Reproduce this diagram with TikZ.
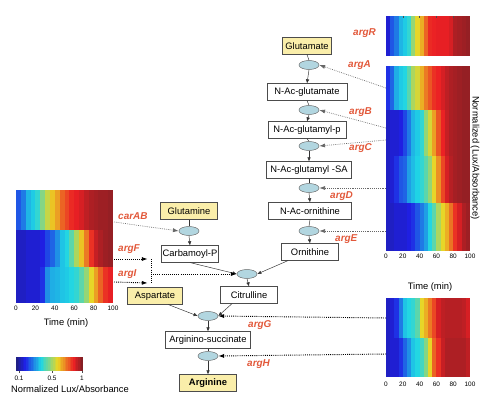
\documentclass[tikz,border=0pt]{standalone}
\usepackage{fontspec}
\setmainfont{Liberation Sans}
\usetikzlibrary{shapes.geometric,arrows.meta}
\definecolor{genered}{RGB}{226,88,58}
\definecolor{metyellow}{RGB}{250,238,170}
\definecolor{enzblue}{RGB}{178,214,224}

% jet colour of a value in [0,1], softened a little, stored as jetcol
\newcommand{\jetcolour}[1]{%
  \pgfmathsetmacro{\jr}{0.12+0.8*max(0,min(1,min(4*#1-1.5,4.5-4*#1)))}%
  \pgfmathsetmacro{\jg}{0.12+0.72*max(0,min(1,min(4*#1-0.5,3.5-4*#1)))}%
  \pgfmathsetmacro{\jb}{0.14+0.76*max(0,min(1,min(4*#1+0.5,2.5-4*#1)))}%
  \definecolor{jetcol}{rgb}{\jr,\jg,\jb}}

% one heat-map row: left x, right x, top y, bottom y, 20 values in [0,1]
\newcommand{\heatrow}[5]{%
  \foreach \val [count=\k] in {#5} {
    \jetcolour{\val}
    \pgfmathsetmacro{\xa}{#1+(\k-1)*(#2-#1)/20}
    \pgfmathsetmacro{\xb}{min(#2,#1+\k*(#2-#1)/20+0.4)}
    \fill[jetcol] (\xa,#3) rectangle (\xb,#4);
  }}

\begin{document}
\begin{tikzpicture}[x=0.03cm, y=-0.03cm,
  metbox/.style={rectangle, draw=black!70, fill=white, minimum height=0.5cm, inner sep=1pt, font=\fontsize{8}{9}\selectfont},
  srcbox/.style={metbox, fill=metyellow},
  enz/.style={ellipse, draw=black!60, fill=enzblue, minimum width=0.6cm, minimum height=0.27cm, inner sep=0pt},
  gene/.style={anchor=west, inner sep=0pt, text=genered, font=\fontsize{8.5}{10}\selectfont\bfseries\itshape},
  ticklab/.style={inner sep=0pt, font=\fontsize{5.5}{6}\selectfont},
  axislab/.style={inner sep=0pt, font=\fontsize{8}{9}\selectfont},
  flow/.style={-{Latex[length=3.5pt,width=3pt]}, black!80, thin},
  link/.style={-{Latex[length=5pt,width=3.5pt]}, densely dotted, black!60, line width=0.6pt},
  boldlink/.style={densely dotted, thick, black}
]
  \useasboundingbox (0,0) rectangle (480,394);

  % Heat maps (right)
  \heatrow{386}{470}{16}{56}{0.1,0.2,0.25,0.33,0.36,0.4,0.52,0.62,0.68,0.78,0.86,0.87,0.88,0.88,0.88,0.9,0.95,0.96,0.97,0.98}
  \heatrow{386}{470}{66}{110}{0.15,0.22,0.32,0.36,0.38,0.45,0.55,0.6,0.68,0.75,0.8,0.85,0.87,0.9,0.93,0.95,0.96,0.97,0.98,0.98}
  \heatrow{386}{470}{110}{156}{0.08,0.1,0.1,0.12,0.18,0.25,0.33,0.36,0.4,0.52,0.6,0.7,0.8,0.87,0.92,0.95,0.96,0.97,0.98,0.98}
  \heatrow{386}{470}{156}{203}{0.08,0.1,0.15,0.2,0.22,0.3,0.34,0.37,0.4,0.45,0.52,0.62,0.72,0.82,0.9,0.94,0.96,0.97,0.98,0.98}
  \heatrow{386}{470}{203}{251}{0.08,0.08,0.1,0.1,0.1,0.12,0.15,0.2,0.25,0.3,0.38,0.45,0.55,0.62,0.68,0.76,0.85,0.9,0.95,0.97}
  \heatrow{386}{470}{298}{338}{0.08,0.1,0.15,0.25,0.35,0.38,0.4,0.45,0.62,0.68,0.75,0.82,0.9,0.93,0.94,0.94,0.94,0.94,0.93,0.9}
  \heatrow{386}{470}{338}{377}{0.08,0.1,0.1,0.15,0.22,0.28,0.35,0.38,0.42,0.5,0.62,0.78,0.85,0.92,0.95,0.95,0.95,0.95,0.95,0.93}
  % Heat map (left)
  \heatrow{16}{113}{190}{230}{0.2,0.25,0.33,0.36,0.4,0.5,0.58,0.65,0.7,0.78,0.82,0.86,0.88,0.9,0.93,0.95,0.96,0.97,0.97,0.98}
  \heatrow{16}{113}{230}{267}{0.08,0.08,0.1,0.1,0.1,0.12,0.18,0.22,0.28,0.35,0.38,0.45,0.55,0.65,0.75,0.85,0.92,0.95,0.97,0.98}
  \heatrow{16}{113}{267}{303}{0.08,0.08,0.1,0.1,0.1,0.15,0.28,0.32,0.33,0.35,0.36,0.38,0.4,0.45,0.52,0.62,0.7,0.78,0.85,0.88}

  % Axes
  \foreach \t in {20,40,60,80} \draw[black!70] ({386+0.84*\t},16) -- ++(0,2.5);
  \foreach \t in {0,20,...,100} {
    \node[ticklab] at ({386+0.84*\t},256) {\t};
    \node[ticklab] at ({386+0.84*\t},384) {\t};
    \node[ticklab] at ({16+0.97*\t},308) {\t};
  }
  \node[axislab] (timeR) at (430,287) {Time (min)};
  \node[axislab] (timeL) at (66,323) {Time (min)};
  \node[axislab, rotate=-90] (normR) at (475,158) {Normalized (Lux/Absorbance)};

  % Colour bar
  \foreach \k in {0,...,39} {
    \pgfmathsetmacro{\cbval}{\k/39}
    \jetcolour{\cbval}
    \fill[jetcol] ({16+\k*67/40},357) rectangle ({16+(\k+1)*67/40+0.3},371);
  }
  \foreach \x in {19,52,82} \draw[black!70] (\x,371) -- ++(0,2);
  \node[ticklab] (cb1) at (19,378) {0.1};
  \node[ticklab] (cb2) at (52,378) {0.5};
  \node[ticklab] (cb3) at (82,378) {1};
  \node[axislab] (cblab) at (70,389) {Normalized Lux/Absorbance};

  % Glutamate branch
  \node[srcbox, minimum width=1.47cm] (glu) at (307,46) {Glutamate};
  \node[enz] (e1) at (309,65) {};
  \node[metbox, minimum width=2.4cm] (nag) at (307,92) {N-Ac-glutamate};
  \node[enz] (e2) at (309,110) {};
  \node[metbox, minimum width=2.35cm] (nagp) at (307,130) {N-Ac-glutamyl-p};
  \node[enz] (e3) at (309,146) {};
  \node[metbox, minimum width=2.55cm] (nagsa) at (309,170) {N-Ac-glutamyl -SA};
  \node[enz] (e4) at (309,188) {};
  \node[metbox, minimum width=2.5cm] (naorn) at (310,211) {N-Ac-ornithine};
  \node[enz] (e5) at (309,231) {};
  \node[metbox, minimum width=1.7cm] (orn) at (310,252) {Ornithine};

  % Glutamine branch
  \node[srcbox, minimum width=1.7cm] (gln) at (189,211) {Glutamine};
  \node[enz] (e6) at (189,231) {};
  \node[metbox, minimum width=1.7cm] (carb) at (190,254) {Carbamoyl-P};
  \node[enz] (e7) at (247,274) {};
  \node[metbox, minimum width=1.7cm] (cit) at (249,295) {Citrulline};
  \node[srcbox, minimum width=1.65cm] (asp) at (155,296) {Aspartate};
  \node[enz] (e8) at (208,316) {};
  \node[metbox, minimum width=2.55cm] (asuc) at (208,340) {Arginino-succinate};
  \node[enz] (e9) at (208,356) {};
  \node[srcbox, minimum width=1.7cm, font=\fontsize{8}{9}\selectfont\bfseries] (arg) at (208,383) {Arginine};

  % Gene labels
  \node[gene] (gR) at (353,33) {argR};
  \node[gene] (gA) at (348,65) {argA};
  \node[gene] (gB) at (349,112) {argB};
  \node[gene] (gC) at (349,148) {argC};
  \node[gene] (gD) at (330,196) {argD};
  \node[gene] (gE) at (335,239) {argE};
  \node[gene] (gCar) at (118,216) {carAB};
  \node[gene] (gF) at (118,249) {argF};
  \node[gene] (gI) at (118,274) {argI};
  \node[gene] (gG) at (248,325) {argG};
  \node[gene] (gH) at (247,364) {argH};

  % Heat-map ends of the links
  \coordinate (hmA) at (386,88);
  \coordinate (hmB) at (386,128);
  \coordinate (hmC) at (386,140);
  \coordinate (hmD) at (386,188);
  \coordinate (hmE) at (386,231);
  \coordinate (hmG) at (386,318);
  \coordinate (hmH) at (386,354);
  \coordinate (hmCar) at (114,222);
  \coordinate (hmF) at (114,259);
  \coordinate (hmI) at (114,282);
  \coordinate (brF) at (151,259);
  \coordinate (brI) at (151,283);
  \coordinate (brM) at (151,274);

  % Pathway arrows
  \draw[black!80] (glu.south) -- (e1.north);
  \draw[flow] (e1.south) -- (nag.north);
  \draw[black!80] (nag.south) -- (e2.north);
  \draw[flow] (e2.south) -- (nagp.north);
  \draw[black!80] (nagp.south) -- (e3.north);
  \draw[flow] (e3.south) -- (nagsa.north);
  \draw[black!80] (nagsa.south) -- (e4.north);
  \draw[flow] (e4.south) -- (naorn.north);
  \draw[black!80] (naorn.south) -- (e5.north);
  \draw[flow] (e5.south) -- (orn.north);
  \draw[black!80] (gln.south) -- (e6.north);
  \draw[flow] (e6.south) -- (carb.north);
  \draw[flow] (carb.south) -- (e7.west);
  \draw[flow] ([xshift=0.2cm]orn.south west) -- (e7.east);
  \draw[flow] (e7.south) -- (cit.north);
  \draw[flow] ([xshift=0.4cm]asp.south) -- (e8.west);
  \draw[flow] ([xshift=0.35cm]cit.south west) -- (e8.east);
  \draw[flow] (e8.south) -- (asuc.north);
  \draw[black!80] (asuc.south) -- (e9.north);
  \draw[flow] (e9.south) -- (arg.north);

  % Expression links
  \draw[link] (hmA) -- (e1.east);
  \draw[link] (hmB) -- (e2.east);
  \draw[link] (hmC) -- (e3.east);
  \draw[link] (hmD) -- (e4.east);
  \draw[link] (hmE) -- (e5.east);
  \draw[link] (hmCar) -- (e6.west);
  \draw[boldlink, -{Latex[length=5pt,width=3.5pt]}] (hmF) -- ([xshift=-0.1cm]brF);
  \draw[boldlink, -{Latex[length=5pt,width=3.5pt]}] (hmI) -- ([xshift=-0.1cm]brI);
  \draw[boldlink] (brF) -- (brI);
  \draw[boldlink, -{Latex[length=5pt,width=3.5pt]}] (brM) -- (e7.west);
  \draw[boldlink, -{Latex[length=5pt,width=3.5pt]}] (hmG) -- (e8.east);
  \draw[boldlink, -{Latex[length=5pt,width=3.5pt]}] (hmH) -- (e9.east);
\end{tikzpicture}
\end{document}
